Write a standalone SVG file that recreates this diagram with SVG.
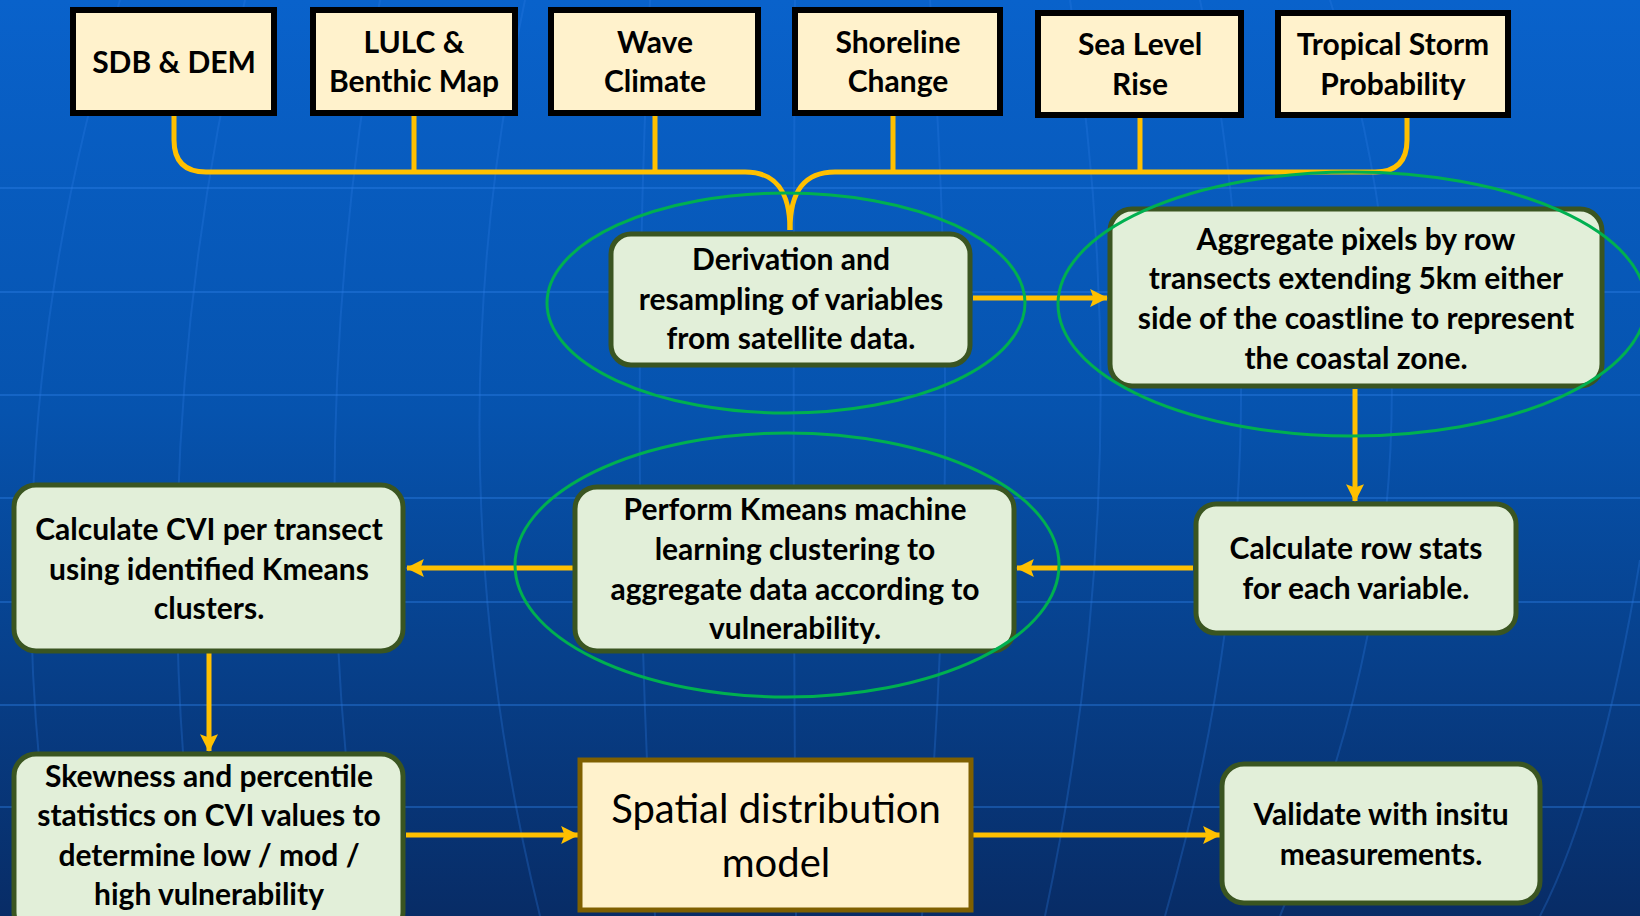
<svg xmlns="http://www.w3.org/2000/svg" width="1640" height="916" viewBox="0 0 1640 916">
<defs>
<linearGradient id="bg" x1="0" y1="0" x2="0" y2="1">
<stop offset="0" stop-color="#0962CB"/>
<stop offset="0.45" stop-color="#0653AE"/>
<stop offset="1" stop-color="#082C66"/>
</linearGradient>
<marker id="ah" markerUnits="userSpaceOnUse" markerWidth="18" markerHeight="18" viewBox="0 0 16 16" refX="15" refY="8" orient="auto">
<path d="M0,0 L16,8 L0,16 L3,8 Z" fill="#FFC000"/>
</marker>
<style>
.grid{fill:none;stroke:#2E7FE6;stroke-width:2;opacity:0.4}
.mer{fill:none;stroke:#2E7FE6;stroke-width:2;opacity:0.28}
.top rect{fill:#FFF2CC;stroke:#000;stroke-width:6}
.proc rect{fill:#E2EFD9;stroke:#3A5521;stroke-width:5}
.t{font-family:Lato,"Liberation Sans",sans-serif;font-weight:bold;font-size:30px;fill:#000;text-anchor:middle}
.big{font-family:Lato,"Liberation Sans",sans-serif;font-weight:normal;font-size:40px;fill:#000;text-anchor:middle}
.conn path{fill:none;stroke:#FFC000;stroke-width:5}
.ring{fill:none;stroke:#00B050;stroke-width:3}
</style>
</defs>
<rect width="1640" height="916" fill="url(#bg)"/>
<g id="background-grid">
<path class="grid" d="M0,188 H1640 M0,292 H1640 M0,395 H1640 M0,498 H1640 M0,602 H1640 M0,705 H1640 M0,807 H1640"/>
<path class="mer" d="M120,0 Q-20,458 60,916 M245,0 Q137,458 200,916 M380,0 Q297,458 365,916 M525,0 Q427,458 540,916 M650,0 Q627,458 655,916 M795,0 Q792,458 796,916 M930,0 Q964,458 922,916 M1070,0 Q1142,458 1045,916 M1200,0 Q1297,458 1165,916 M1330,0 Q1475,458 1280,916 M1640,560 Q1600,800 1540,916"/>
</g>
<g id="connectors" class="conn">
<path d="M174,116 V140 Q174,172 206,172 H745 C775,172 790,190 790,230"/>
<path d="M1407,118 V140 Q1407,172 1375,172 H835 C805,172 790,190 790,230"/>
<path d="M414,116 V172 M655,116 V172 M893,116 V172 M1140,118 V172"/>
<path d="M973,298 H1107" marker-end="url(#ah)"/>
<path d="M1355,389 V501" marker-end="url(#ah)"/>
<path d="M1193,568 H1017" marker-end="url(#ah)"/>
<path d="M573,568 H407" marker-end="url(#ah)"/>
<path d="M209,653 V751" marker-end="url(#ah)"/>
<path d="M406,835 H578" marker-end="url(#ah)"/>
<path d="M973,835 H1220" marker-end="url(#ah)"/>
</g>
<g id="sdb-dem" class="top"><rect x="73" y="10" width="201" height="103"/><text class="t" x="174" y="73">SDB &amp; DEM</text></g>
<g id="lulc" class="top"><rect x="313" y="10" width="202" height="103"/><text class="t" x="414" y="53">LULC &amp;</text><text class="t" x="414" y="92">Benthic Map</text></g>
<g id="wave" class="top"><rect x="551" y="10" width="207" height="103"/><text class="t" x="655" y="53">Wave</text><text class="t" x="655" y="92">Climate</text></g>
<g id="shoreline" class="top"><rect x="795" y="10" width="205" height="103"/><text class="t" x="898" y="53">Shoreline</text><text class="t" x="898" y="92">Change</text></g>
<g id="sea-level" class="top"><rect x="1038" y="13" width="203" height="102"/><text class="t" x="1140" y="55">Sea Level</text><text class="t" x="1140" y="95">Rise</text></g>
<g id="storm" class="top"><rect x="1278" y="13" width="230" height="102"/><text class="t" x="1393" y="55">Tropical Storm</text><text class="t" x="1393" y="95">Probability</text></g>
<g id="derivation" class="proc"><rect x="611" y="234" width="359" height="131" rx="20"/><text class="t" x="791" y="270">Derivation and</text><text class="t" x="791" y="310">resampling of variables</text><text class="t" x="791" y="349">from satellite data.</text></g>
<g id="aggregate" class="proc"><rect x="1110" y="209" width="492" height="177" rx="22"/><text class="t" x="1356" y="250">Aggregate pixels by row</text><text class="t" x="1356" y="289">transects extending 5km either</text><text class="t" x="1356" y="329">side of the coastline to represent</text><text class="t" x="1356" y="369">the coastal zone.</text></g>
<g id="row-stats" class="proc"><rect x="1196" y="504" width="320" height="129" rx="20"/><text class="t" x="1356" y="559">Calculate row stats</text><text class="t" x="1356" y="599">for each variable.</text></g>
<g id="kmeans" class="proc"><rect x="575" y="487" width="439" height="164" rx="22"/><text class="t" x="795" y="520">Perform Kmeans machine</text><text class="t" x="795" y="560">learning clustering to</text><text class="t" x="795" y="600">aggregate data according to</text><text class="t" x="795" y="639">vulnerability.</text></g>
<g id="cvi" class="proc"><rect x="14" y="485" width="389" height="166" rx="22"/><text class="t" x="209" y="540">Calculate CVI per transect</text><text class="t" x="209" y="580">using identified Kmeans</text><text class="t" x="209" y="619">clusters.</text></g>
<g id="skewness" class="proc"><rect x="14" y="754" width="389" height="180" rx="22"/><text class="t" x="209" y="787">Skewness and percentile</text><text class="t" x="209" y="826">statistics on CVI values to</text><text class="t" x="209" y="866">determine low / mod /</text><text class="t" x="209" y="905">high vulnerability</text></g>
<g id="spatial"><rect x="580" y="760" width="391" height="150" fill="#FFF2CC" stroke="#7F6000" stroke-width="5"/><text class="big" x="776" y="823">Spatial distribution</text><text class="big" x="776" y="877">model</text></g>
<g id="validate" class="proc"><rect x="1222" y="764" width="318" height="139" rx="22"/><text class="t" x="1381" y="825">Validate with insitu</text><text class="t" x="1381" y="865">measurements.</text></g>
<g id="highlights">
<ellipse class="ring" cx="786" cy="303" rx="239" ry="110"/>
<ellipse class="ring" cx="1352" cy="304" rx="294" ry="132"/>
<ellipse class="ring" cx="787" cy="565" rx="272" ry="132" stroke-width="4"/>
</g>
</svg>
